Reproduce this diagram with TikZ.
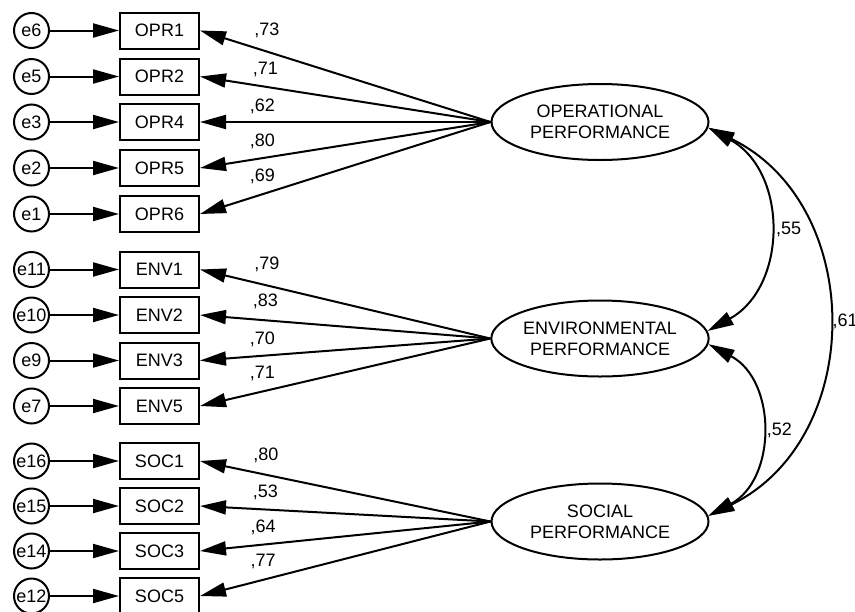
\documentclass[tikz,border=0pt]{standalone}
\usepackage{fontspec}
\setmainfont{Liberation Sans}
\usetikzlibrary{arrows.meta,shapes.geometric}
\begin{document}
\begin{tikzpicture}[x=0.5pt,y=0.5pt,line width=1pt,font=\fontsize{9}{10.5}\selectfont]
\tikzstyle{every node}+=[inner sep=0pt]
\tikzstyle{err}=[draw,circle,minimum size=17.5pt]
\tikzstyle{item}=[draw,rectangle,minimum width=39.5pt,minimum height=18pt]
\tikzstyle{factor}=[draw,ellipse,minimum width=108.5pt,minimum height=38pt,align=center]
\tikzstyle{reg}=[-{Triangle[length=13pt,width=7pt]}]
\tikzstyle{cov}=[{Triangle[length=13pt,width=7pt]}-{Triangle[length=13pt,width=7pt]}]
\useasboundingbox (0,0) rectangle (855,-611);
\node [factor] (OP) at (600,-122) {OPERATIONAL\\PERFORMANCE};
\node [factor] (ENV) at (600,-338.5) {ENVIRONMENTAL\\PERFORMANCE};
\node [factor] (SOC) at (600,-521.5) {SOCIAL\\PERFORMANCE};
\node [err] (e6) at (31.5,-30.5) {e6};
\node [item] (OPR1) at (159.5,-30.5) {OPR1};
\node [err] (e5) at (31.5,-76.5) {e5};
\node [item] (OPR2) at (159.5,-76.5) {OPR2};
\node [err] (e3) at (31.5,-122) {e3};
\node [item] (OPR4) at (159.5,-122) {OPR4};
\node [err] (e2) at (31.5,-168) {e2};
\node [item] (OPR5) at (159.5,-168) {OPR5};
\node [err] (e1) at (31.5,-214) {e1};
\node [item] (OPR6) at (159.5,-214) {OPR6};
\node [err] (e11) at (31.5,-269.5) {e11};
\node [item] (ENV1) at (159.5,-269.5) {ENV1};
\node [err] (e10) at (31.5,-315) {e10};
\node [item] (ENV2) at (159.5,-315) {ENV2};
\node [err] (e9) at (31.5,-360.5) {e9};
\node [item] (ENV3) at (159.5,-360.5) {ENV3};
\node [err] (e7) at (31.5,-406) {e7};
\node [item] (ENV5) at (159.5,-406) {ENV5};
\node [err] (e16) at (31.5,-461) {e16};
\node [item] (SOC1) at (159.5,-461) {SOC1};
\node [err] (e15) at (31.5,-506) {e15};
\node [item] (SOC2) at (159.5,-506) {SOC2};
\node [err] (e14) at (31.5,-551) {e14};
\node [item] (SOC3) at (159.5,-551) {SOC3};
\node [err] (e12) at (31.5,-596) {e12};
\node [item] (SOC5) at (159.5,-596) {SOC5};
\draw [reg] (e6) -- (OPR1);
\draw [reg] (e5) -- (OPR2);
\draw [reg] (e3) -- (OPR4);
\draw [reg] (e2) -- (OPR5);
\draw [reg] (e1) -- (OPR6);
\draw [reg] (e11) -- (ENV1);
\draw [reg] (e10) -- (ENV2);
\draw [reg] (e9) -- (ENV3);
\draw [reg] (e7) -- (ENV5);
\draw [reg] (e16) -- (SOC1);
\draw [reg] (e15) -- (SOC2);
\draw [reg] (e14) -- (SOC3);
\draw [reg] (e12) -- (SOC5);
\draw [reg] (OP.west) -- node [pos=0.77,above=6.5pt] {,73} (OPR1.east);
\draw [reg] (OP.west) -- node [pos=0.775,above=4.5pt] {,71} (OPR2.east);
\draw [reg] (OP.west) -- node [pos=0.785,above=3.6pt] {,62} (OPR4.east);
\draw [reg] (OP.west) -- node [pos=0.785,above=4.2pt] {,80} (OPR5.east);
\draw [reg] (OP.west) -- node [pos=0.785,above=4.7pt] {,69} (OPR6.east);
\draw [reg] (ENV.west) -- node [pos=0.77,above=6.4pt] {,79} (ENV1.east);
\draw [reg] (ENV.west) -- node [pos=0.775,above=5.1pt] {,83} (ENV2.east);
\draw [reg] (ENV.west) -- node [pos=0.785,above=4pt] {,70} (ENV3.east);
\draw [reg] (ENV.west) -- node [pos=0.785,above=4.9pt] {,71} (ENV5.east);
\draw [reg] (SOC.west) -- node [pos=0.773,above=5.5pt] {,80} (SOC1.east);
\draw [reg] (SOC.west) -- node [pos=0.775,above=4.1pt] {,53} (SOC2.east);
\draw [reg] (SOC.west) -- node [pos=0.783,above=4.2pt] {,64} (SOC3.east);
\draw [reg] (SOC.west) -- node [pos=0.783,above=5pt] {,77} (SOC5.east);
\draw [cov] (OP.-3) to [out=-29,in=29,looseness=1.15] node [pos=0.5,right=3.5pt] {,55} (ENV.4);
\draw [cov] (ENV.-3.5) to [out=-28,in=28,looseness=1.16] node [pos=0.5,right=3pt] {,52} (SOC.3.5);
\draw [cov] (OP.-3) to [out=-26,in=26,looseness=1.16] node [pos=0.5,right=2.5pt] {,61} (SOC.3.5);
\end{tikzpicture}
\end{document}
